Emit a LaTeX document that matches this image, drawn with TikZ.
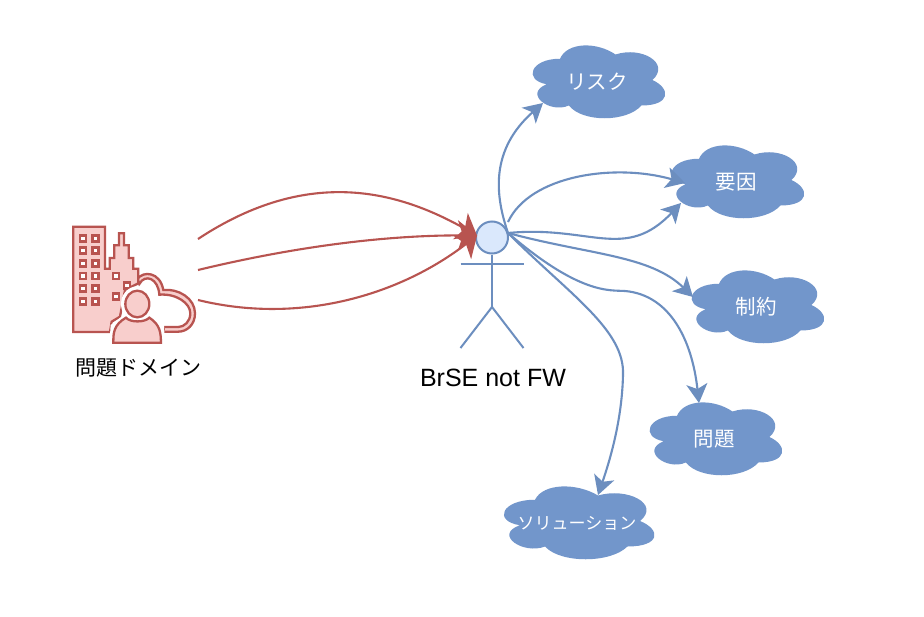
\documentclass[tikz,border=0pt]{standalone}
\usepackage{fontspec}
\setmainfont{Liberation Sans}
\newfontfamily\jpfont{Noto Sans CJK JP}
\usetikzlibrary{arrows.meta}
\definecolor{redline}{HTML}{B85450}
\definecolor{redfill}{HTML}{F8CECC}
\definecolor{blueline}{HTML}{6C8EBF}
\definecolor{bluefill}{HTML}{DAE8FC}
\definecolor{cloudblue}{HTML}{7296CB}
\tikzset{
  redflow/.style={draw=redline,line width=2.1pt,-{Stealth[length=19pt,width=30pt,inset=5pt]}},
  blueflow/.style={draw=blueline,line width=2.1pt,-{Stealth[length=19pt,width=21pt,inset=5pt]}},
  stickfig/.style={draw=blueline,line width=2pt},
  iconline/.style={draw=redline,fill=redfill,line width=2.3pt,line join=miter},
  iconwindow/.style={draw=redline,fill=white,line width=2.4pt},
  cloudtext/.style={text=white,font=\jpfont,inner sep=0pt},
}
% Cloud outline in unit coordinates, with an invisible node that carries the label
\newcommand{\cloudat}[7]{%
  \fill[cloudblue,shift={(#2,#3)},xscale=#4,yscale=#5]
    (0.25,0.25) .. controls (0.05,0.25) and (0,0.5) .. (0.16,0.55)
    .. controls (0,0.66) and (0.18,0.9) .. (0.31,0.8)
    .. controls (0.4,1) and (0.7,1) .. (0.8,0.8)
    .. controls (1,0.8) and (1,0.6) .. (0.875,0.5)
    .. controls (1,0.3) and (0.8,0.1) .. (0.625,0.2)
    .. controls (0.5,0.05) and (0.3,0.05) .. (0.25,0.25) -- cycle;
  \node[cloudtext,font=\jpfont#6] (#1) at ({#2+#4/2},{#3+#5/2+2}) {#7};%
}
\begin{document}
\begin{tikzpicture}[x=1pt,y=-1pt]
\useasboundingbox[fill=white] (0,0) rectangle (924,616);

% Clouds
\cloudat{risk}{523}{37.5}{148}{85}{\fontsize{20.5}{24}\selectfont}{リスク}
\cloudat{cause}{662}{137.5}{148}{85}{\fontsize{20.5}{24}\selectfont}{要因}
\cloudat{limit}{682}{262.5}{148}{85}{\fontsize{20.5}{24}\selectfont}{制約}
\cloudat{issue}{640}{394.5}{148}{85}{\fontsize{20.5}{24}\selectfont}{問題}
\cloudat{solution}{493}{478.5}{168}{85}{\fontsize{17}{20}\selectfont}{ソリューション}

% Stick figure
\node[circle,draw=blueline,fill=bluefill,line width=2pt,minimum size=32pt,inner sep=0pt] (head) at (492,237.5) {};
\coordinate (hip) at (492,307);
\coordinate (armL) at (460.5,264);
\coordinate (armR) at (523.5,264);
\coordinate (footL) at (460.5,348);
\coordinate (footR) at (523.5,348);
\draw[stickfig] (head.south) -- (hip);
\draw[stickfig] (armL) -- (armR);
\draw[stickfig] (footL) -- (hip) -- (footR);
\node[font=\fontsize{25}{29}\selectfont,inner sep=0pt] (actor) at (493,378) {BrSE not FW};

% City and user icon, laid out on a three-times-finer grid
\begin{scope}[shift={(50,210)},scale=1/3]
  % cloud band behind the user
  \path[iconline]
    (262,207) .. controls (280,182) and (330,185) .. (340,240)
    .. controls (385,235) and (435,265) .. (435,310)
    .. controls (435,345) and (410,365) .. (385,365) -- (341,365) -- (341,351) -- (385,351)
    .. controls (402,351) and (421,335) .. (421,310)
    .. controls (421,280) and (380,250) .. (328,254)
    .. controls (325,205) and (285,190) .. (268,222) -- cycle;
  % tower and skyscraper
  \path[iconline]
    (70,50) -- (165,50) -- (165,176) -- (179,176) -- (179,144) -- (193,144) -- (193,106)
    -- (207,106) -- (207,70) -- (222,70) -- (222,106) -- (236,106) -- (236,144) -- (250,144)
    -- (250,176) -- (265,176) -- (265,220) -- (225,240) -- (210,320) -- (185,335) -- (180,366) -- (70,366) -- cycle;
  % windows
  \foreach \wx in {99,137}
    \foreach \wy in {85,122,160,198,236,274}
      \path[iconwindow] (\wx-9,\wy-9) rectangle (\wx+9,\wy+9);
  \foreach \wx/\wy in {198/198,231/227,198/260}
    \path[iconwindow] (\wx-9,\wy-9) rectangle (\wx+9,\wy+9);
  % user: white halo, head and shoulders
  \fill[white] (262,282) ellipse (49 and 53);
  \fill[white] (178,405) -- (182,345) -- (225,312) -- (300,312) -- (342,345) -- (345,405) -- cycle;
  \path[iconline] (262,282) ellipse (36 and 40);
  \path[iconline]
    (190,398) .. controls (190,370) and (190,345) .. (228,323)
    .. controls (240,338) and (285,338) .. (298,323)
    .. controls (332,345) and (332,370) .. (333,398) -- cycle;
\end{scope}
\node[font=\jpfont\fontsize{21}{24}\selectfont,inner sep=0pt] (domain) at (138,368) {問題ドメイン};

% Free ends of the flows
\coordinate (d1) at (198,239);
\coordinate (d2) at (198,270);
\coordinate (d3) at (198,300);
\coordinate (a0) at (508,222);
\coordinate (a1) at (508,233);
\coordinate (riskin) at (543,103);
\coordinate (causein) at (685,183);
\coordinate (causein2) at (681,203);
\coordinate (limitin) at (693,297);
\coordinate (issuein) at (699,403);
\coordinate (solin) at (598,495);

% Flows from the domain to the actor
\coordinate (a2) at (477,235.5);
\draw[redflow] (d1) .. controls (310,165) and (400,192) .. (a2);
\draw[redflow] (d2) .. controls (310,243) and (400,235) .. (a2);
\draw[redflow] (d3) .. controls (300,325) and (400,295) .. (a2);

% Flows from the actor to the concerns
\draw[blueflow] (a1) .. controls (495,195) and (490,150) .. (riskin);
\draw[blueflow] (a0) .. controls (530,175) and (615,163) .. (causein);
\draw[blueflow] (a1) .. controls (590,225) and (625,262) .. (causein2);
\draw[blueflow] (a1) .. controls (590,255) and (650,255) .. (limitin);
\draw[blueflow] (a1) .. controls (580,295) and (610,290) .. (625,291) .. controls (670,295) and (692,340) .. (issuein);
\draw[blueflow] (a1) .. controls (570,295) and (625,330) .. (623,375) .. controls (622,420) and (610,460) .. (solin);
\end{tikzpicture}
\end{document}
